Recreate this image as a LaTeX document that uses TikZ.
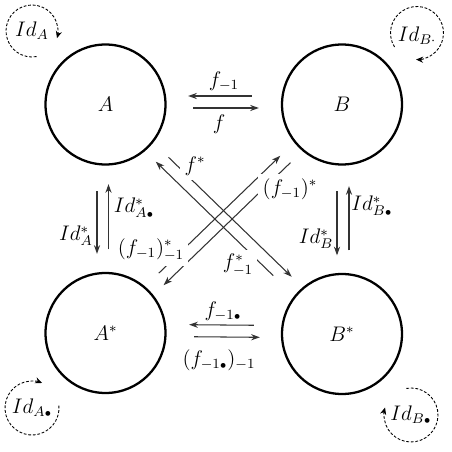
\documentclass[tikz,border=0pt]{standalone}
\usepackage{amsmath}
\usepackage{amssymb}
\usepackage{tikz}
\usetikzlibrary{arrows.meta,calc}

\newcommand{\sdot}{{\scriptscriptstyle\bullet}}

\begin{document}
\begin{tikzpicture}[x=0.02cm, y=-0.02cm,
    set/.style={circle, draw, line width=1.3pt, minimum size=2.4cm, inner sep=0pt, font=\large},
    arrow/.style={-{Stealth[length=5pt,width=3.5pt]}, line width=0.6pt, draw=black!80},
    idloop/.style={-{Stealth[length=4pt,width=3.5pt]}, line width=0.5pt, dash pattern=on 1.6pt off 1pt},
    lab/.style={font=\large, inner sep=1pt},
    cut/.style={lab, fill=white, inner sep=2.5pt}
]
\useasboundingbox (0,0) rectangle (451,452);

\node[set] (A) at (105.5,104.5) {$A$};
\node[set] (B) at (342,104.5) {$B$};
\node[set] (As) at (105.5,333) {$A^*$};
\node[set] (Bs) at (342,334) {$B^*$};

\draw[arrow, shorten <=0.58cm, shorten >=0.43cm] ([yshift=0.17cm]B.west) -- ([yshift=0.17cm]A.east);
\draw[arrow, shorten <=0.53cm, shorten >=0.44cm] ([yshift=-0.07cm]A.east) -- ([yshift=-0.07cm]B.west);
\draw[arrow, shorten <=0.54cm, shorten >=0.45cm] ([yshift=0.17cm]Bs.west) -- ([yshift=0.17cm]As.east);
\draw[arrow, shorten <=0.55cm, shorten >=0.42cm] ([yshift=-0.07cm]As.east) -- ([yshift=-0.07cm]Bs.west);

\draw[arrow, shorten <=0.51cm, shorten >=0.36cm] ([xshift=-0.17cm]A.south) -- ([xshift=-0.17cm]As.north);
\draw[arrow, shorten <=0.45cm, shorten >=0.37cm] ([xshift=0.06cm]As.north) -- ([xshift=0.06cm]A.south);
\draw[arrow, shorten <=0.51cm, shorten >=0.35cm] ([xshift=-0.1cm]B.south) -- ([xshift=-0.1cm]Bs.north);
\draw[arrow, shorten <=0.45cm, shorten >=0.41cm] ([xshift=0.14cm]Bs.north) -- ([xshift=0.14cm]B.south);

\draw[arrow, shorten <=1.64cm, shorten >=1.52cm] ($(A)!0.12cm!90:(Bs)$) -- ($(Bs)!0.12cm!-90:(A)$);
\draw[arrow, shorten <=1.8cm, shorten >=1.52cm] ($(Bs)!0.12cm!90:(A)$) -- ($(A)!0.12cm!-90:(Bs)$);
\draw[arrow, shorten <=1.6cm, shorten >=1.6cm] ($(As)!0.12cm!90:(B)$) -- ($(B)!0.12cm!-90:(As)$);
\draw[arrow, shorten <=1.55cm, shorten >=1.5cm] ($(B)!0.12cm!90:(As)$) -- ($(As)!0.12cm!-90:(B)$);

\node[lab] (fi) at (224,81) {$f_{-1}$};
\node[lab] (f) at (219,124) {$f$};
\node[lab] (fis) at (223,311) {$f_{-1\sdot}$};
\node[lab] (fisi) at (219,360) {$(f_{-1\sdot})_{-1}$};

\node[lab] (idAs) at (76,236) {$Id^*_A$};
\node[lab] (idAsd) at (134,208) {$Id^*_{A\sdot}$};
\node[lab] (idBsd) at (372,206) {$Id^*_{B\sdot}$};
\node[lab] (idBs) at (316,239) {$Id^*_B$};

\node[cut] (fstar) at (195,166) {$f^*$};
\node[cut] (fstari) at (238,265) {$f^*_{-1}$};
\node[cut] (fistar) at (290,189) {$(f_{-1})^*$};
\node[cut] (fistari) at (151,250) {$(f_{-1})^*_{-1}$};

\node[lab] (idA) at (32,31) {$Id_A$};
\node[lab] (idB) at (417,36) {$Id_{B\cdot}$};
\node[lab] (idAd) at (32,408) {$Id_{A\sdot}$};
\node[lab] (idBd) at (411,415) {$Id_{B\sdot}$};

\draw[idloop] ([shift={(-80:0.52cm)}]idA.center) arc[start angle=-80, end angle=-376, radius=0.52cm];
\draw[idloop] ([shift={(212:0.53cm)}]$(idB.center)+(0,-3)$) arc[start angle=212, end angle=-92, radius=0.53cm];
\draw[idloop] ([shift={(5:0.54cm)}]idAd.center) arc[start angle=5, end angle=-292, radius=0.54cm];
\draw[idloop] ([shift={(100:0.54cm)}]idBd.center) arc[start angle=100, end angle=-196, radius=0.54cm];

\end{tikzpicture}
\end{document}
